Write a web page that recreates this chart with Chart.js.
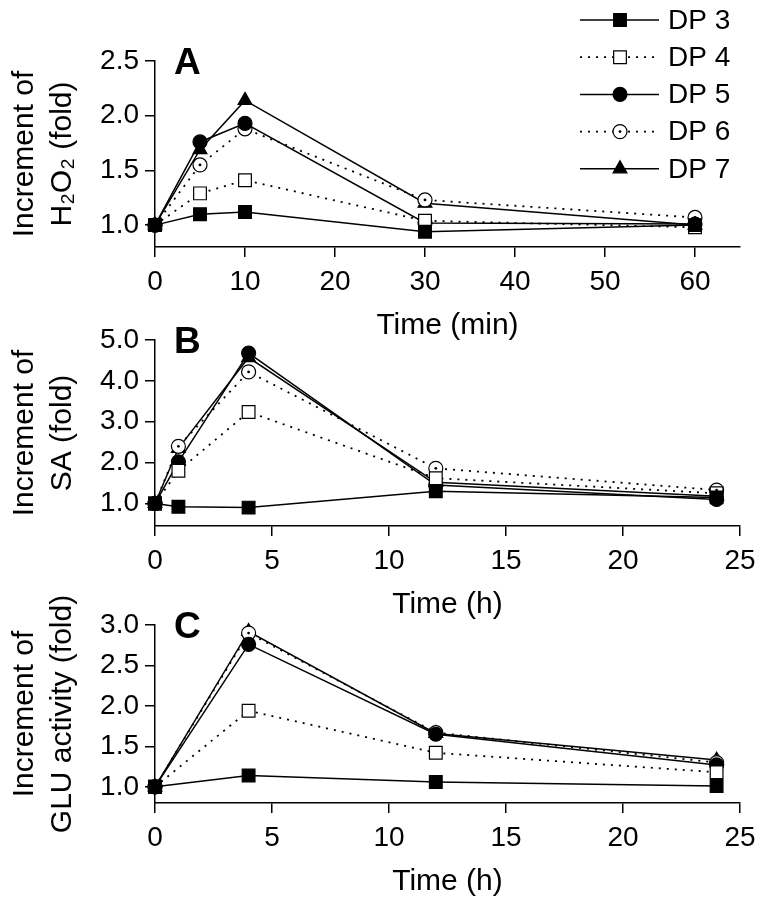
<!DOCTYPE html>
<html>
<head>
<meta charset="utf-8">
<script src="https://cdn.jsdelivr.net/npm/chart.js@4.4.0/dist/chart.umd.min.js"></script>
<style>
  body { margin: 0; background: #fff; width: 764px; height: 898px; overflow: hidden; position: relative; }
  canvas { position: absolute; left: 0; }
</style>
</head>
<body>
<canvas id="chartA" width="764" height="344" style="top:0px"></canvas>
<canvas id="chartB" width="764" height="323" style="top:300px"></canvas>
<canvas id="chartC" width="764" height="310" style="top:590px"></canvas>
<script>
// series names
const seriesNames = ['DP 3', 'DP 4', 'DP 5', 'DP 6', 'DP 7'];

// panel A: H2O2, time in min
const timesA = [0, 5, 10, 30, 60];
const h2o2DP3 = [1.0, 1.10, 1.12, 0.94, 1.0];
const h2o2DP4 = [1.0, 1.29, 1.41, 1.04, 0.98];
const h2o2DP5 = [1.0, 1.76, 1.93, 1.02, 1.01];
const h2o2DP6 = [1.0, 1.55, 1.88, 1.23, 1.07];
const h2o2DP7 = [1.0, 1.69, 2.14, 1.20, 1.0];

// panel B: SA, time in h
const timesB = [0, 1, 4, 12, 24];
const saDP3 = [1.0, 0.92, 0.90, 1.30, 1.15];
const saDP4 = [1.0, 1.80, 3.24, 1.62, 1.25];
const saDP5 = [1.0, 2.02, 4.68, 1.45, 1.10];
const saDP6 = [1.0, 2.40, 4.22, 1.86, 1.33];
const saDP7 = [1.0, 2.35, 4.57, 1.52, 1.18];

// panel C: GLU activity, time in h
const timesC = [0, 4, 12, 24];
const gluDP3 = [1.0, 1.14, 1.06, 1.01];
const gluDP4 = [1.0, 1.94, 1.42, 1.18];
const gluDP5 = [1.0, 2.76, 1.65, 1.27];
const gluDP6 = [1.0, 2.90, 1.67, 1.30];
const gluDP7 = [1.0, 2.92, 1.66, 1.33];

const FONT = "'Liberation Sans', Arial, sans-serif";
Chart.defaults.color = '#000';

// dot: true -> open circle with a small dot in the middle (DP 6)
const styles = [
  { pointStyle: 'rect', radius: 9, fill: '#000', dash: [] },
  { pointStyle: 'rect', radius: 9, fill: '#fff', dash: [2, 6] },
  { pointStyle: 'circle', radius: 7, fill: '#000', dash: [] },
  { pointStyle: 'circle', radius: 7, fill: '#fff', dash: [2, 6], dot: true },
  { pointStyle: 'triangle', radius: 8, fill: '#000', dash: [] }
];

function makeDatasets(times, seriesValues) {
  return seriesValues.map((vals, i) => ({
    label: seriesNames[i],
    data: times.map((t, j) => ({ x: t, y: vals[j] })),
    borderColor: '#000',
    borderWidth: styles[i].dash.length ? 1.8 : 1.5,
    borderDash: styles[i].dash,
    pointStyle: styles[i].pointStyle,
    pointRadius: styles[i].radius,
    pointBackgroundColor: styles[i].fill,
    pointBorderColor: '#000',
    pointBorderWidth: 1.2,
    tension: 0,
    fill: false,
    clip: false
  }));
}

// small centre dots on the DP 6 circles, placed on the library's own point elements
const centerDots = {
  id: 'centerDots',
  afterDatasetsDraw(chart) {
    const ctx = chart.ctx;
    ctx.save();
    ctx.fillStyle = '#000';
    chart.data.datasets.forEach((ds, i) => {
      if (!styles[i].dot) return;
      chart.getDatasetMeta(i).data.forEach(pt => {
        ctx.beginPath(); ctx.arc(pt.x, pt.y, 1.4, 0, Math.PI * 2); ctx.fill();
      });
    });
    ctx.restore();
  }
};

// bold panel letters A, B, C
const panelLetter = {
  id: 'panelLetter',
  afterDraw(chart, args, opts) {
    const ctx = chart.ctx;
    ctx.save();
    ctx.font = 'bold 37px ' + FONT;
    ctx.fillStyle = '#000';
    ctx.textBaseline = 'alphabetic';
    ctx.fillText(opts.text, 174, chart.chartArea.top + 13);
    ctx.restore();
  }
};

// legend with line + marker, drawn on panel A
function drawMarker(ctx, st, x, y) {
  ctx.fillStyle = st.fill;
  ctx.strokeStyle = '#000';
  ctx.lineWidth = 1.2;
  ctx.setLineDash([]);
  const r = st.radius;
  ctx.beginPath();
  if (st.pointStyle === 'rect') {
    const s = Math.SQRT1_2 * r;
    ctx.rect(x - s, y - s, 2 * s, 2 * s);
  } else if (st.pointStyle === 'circle') {
    ctx.arc(x, y, r, 0, Math.PI * 2);
  } else {
    ctx.moveTo(x, y - r);
    ctx.lineTo(x + r * Math.sin(Math.PI / 3), y + r / 2);
    ctx.lineTo(x - r * Math.sin(Math.PI / 3), y + r / 2);
    ctx.closePath();
  }
  ctx.fill(); ctx.stroke();
  if (st.dot) {
    ctx.beginPath(); ctx.arc(x, y, 1.4, 0, Math.PI * 2);
    ctx.fillStyle = '#000'; ctx.fill();
  }
}

const lineLegend = {
  id: 'lineLegend',
  afterDraw(chart) {
    const ctx = chart.ctx;
    ctx.save();
    seriesNames.forEach((name, i) => {
      const y = 20 + i * 37.2;
      ctx.beginPath();
      ctx.setLineDash(styles[i].dash);
      ctx.lineWidth = styles[i].dash.length ? 1.8 : 1.5;
      ctx.strokeStyle = '#000';
      ctx.moveTo(580, y); ctx.lineTo(659, y);
      ctx.stroke();
      drawMarker(ctx, styles[i], 620, y);
      ctx.font = '28px ' + FONT;
      ctx.fillStyle = '#000';
      ctx.textBaseline = 'middle';
      ctx.fillText(name, 668, y + 1);
    });
    ctx.restore();
  }
};

function makeOptions(p) {
  return {
    responsive: false,
    animation: false,
    layout: { padding: { top: p.areaTop - p.canvasTop, right: 24, bottom: 0, left: 0 } },
    plugins: {
      legend: { display: false },
      tooltip: { enabled: false },
      panelLetter: { text: p.letter }
    },
    scales: {
      x: {
        type: 'linear',
        min: 0,
        max: p.xMax,
        afterFit: s => { s.height = 97; },
        border: { color: '#000', width: 1.5 },
        grid: { drawOnChartArea: false, color: '#000', lineWidth: 1.5, tickLength: 10 },
        ticks: { stepSize: p.xStep, includeBounds: false, maxRotation: 0, padding: 8,
                 color: '#000', font: { family: FONT, size: 28 } },
        title: { display: true, text: p.xTitle, color: '#000', padding: 0,
                 font: { family: FONT, size: 30, lineHeight: 1.25 } }
      },
      y: {
        min: p.yMin,
        max: p.yMax,
        afterFit: s => { s.width = 155; },
        border: { color: '#000', width: 1.5 },
        grid: { drawOnChartArea: false, color: '#000', lineWidth: 1.5, tickLength: 10 },
        ticks: { stepSize: p.yStep, includeBounds: false, padding: 6, color: '#000',
                 font: { family: FONT, size: 28 }, callback: v => v.toFixed(1) },
        title: { display: true, text: p.yTitle, color: '#000', padding: { top: 6, bottom: 0 },
                 font: { family: FONT, size: 30, lineHeight: 1.25 } }
      }
    }
  };
}

new Chart(document.getElementById('chartA'), {
  type: 'line',
  data: { datasets: makeDatasets(timesA, [h2o2DP3, h2o2DP4, h2o2DP5, h2o2DP6, h2o2DP7]) },
  options: makeOptions({ canvasTop: 0, areaTop: 61, letter: 'A', xMax: 65, xStep: 10,
    xTitle: 'Time (min)', yMin: 0.8, yMax: 2.5, yStep: 0.5,
    yTitle: ['Increment of', 'H\u2082O\u2082 (fold)'] }),
  plugins: [centerDots, panelLetter, lineLegend]
});

new Chart(document.getElementById('chartB'), {
  type: 'line',
  data: { datasets: makeDatasets(timesB, [saDP3, saDP4, saDP5, saDP6, saDP7]) },
  options: makeOptions({ canvasTop: 300, areaTop: 340, letter: 'B', xMax: 25, xStep: 5,
    xTitle: 'Time (h)', yMin: 0.45, yMax: 5, yStep: 1,
    yTitle: ['Increment of', 'SA (fold)'] }),
  plugins: [centerDots, panelLetter]
});

new Chart(document.getElementById('chartC'), {
  type: 'line',
  data: { datasets: makeDatasets(timesC, [gluDP3, gluDP4, gluDP5, gluDP6, gluDP7]) },
  options: makeOptions({ canvasTop: 590, areaTop: 625, letter: 'C', xMax: 25, xStep: 5,
    xTitle: 'Time (h)', yMin: 0.8, yMax: 3, yStep: 0.5,
    yTitle: ['Increment of', 'GLU activity (fold)'] }),
  plugins: [centerDots, panelLetter]
});
</script>
</body>
</html>
